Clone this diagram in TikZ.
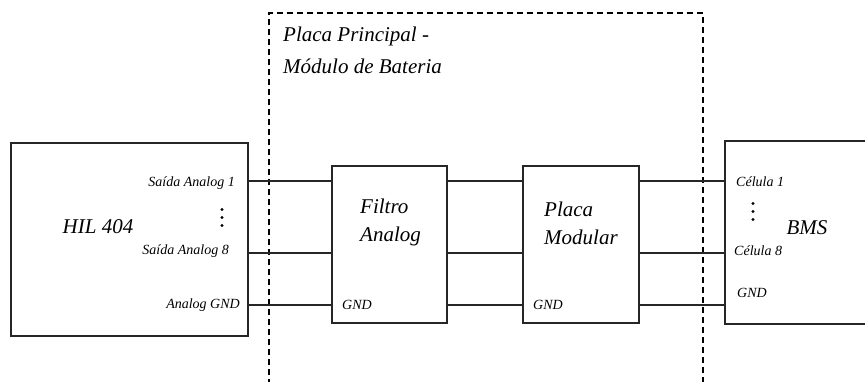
\documentclass[tikz,border=0pt]{standalone}
\usepackage{fontspec}
\setmainfont{Liberation Serif}
\usetikzlibrary{positioning}

\tikzset{
	blk/.style={draw=black!85, line width=1.1pt, rectangle, inner sep=0pt},
	wire/.style={draw=black!85, line width=1.1pt},
	frame/.style={draw=black, line width=1.6pt, dash pattern=on 6pt off 4pt},
	pin/.style={font=\fontsize{14}{16}\selectfont\itshape, inner sep=0pt},
	big/.style={font=\fontsize{21}{28}\selectfont\itshape, inner sep=0pt, align=left},
}

\begin{document}
\begin{tikzpicture}[x=1pt, y=-1pt]
		\clip (0,0) rectangle (865,381);
		\useasboundingbox (0,0) rectangle (865,381);

		% placa principal (moldura tracejada)
		\draw[frame] (269,395) -- (269,13) -- (703,13) -- (703,395);
		\node[big, anchor=north west] (pp) at (283,27) {Placa Principal -\\[4pt]Módulo de Bateria};

		% blocos
		\node[blk, minimum width=237pt, minimum height=193pt] (hil) at (129.5,239.5) {};
		\node[blk, minimum width=115pt, minimum height=157pt] (filtro) at (389.5,244.5) {};
		\node[blk, minimum width=116pt, minimum height=157pt] (placa) at (581,244.5) {};
		\node[blk, minimum width=180pt, minimum height=183pt] (bms) at (815,232.5) {};

		\node[big] (hiltxt) at (98,227) {HIL 404};
		\node[big, anchor=west] (filtxt) at (360,222) {Filtro\\Analog};
		\node[big, anchor=west] (platxt) at (544,223) {Placa\\Modular};
		\node[big] (bmstxt) at (807,228) {BMS};

		% linhas de sinal
		\coordinate (c1) at (0,181);
		\coordinate (c8) at (0,253);
		\coordinate (cg) at (0,305);
		\foreach \c in {c1, c8, cg} {
			\draw[wire] (hil.east |- \c) -- (filtro.west |- \c);
			\draw[wire] (filtro.east |- \c) -- (placa.west |- \c);
			\draw[wire] (placa.east |- \c) -- (bms.west |- \c);
		}

		% rotulos dos pinos
		\node[pin, anchor=east] (s1) at (235,183) {Saída Analog 1};
		\node[pin, anchor=east] (s8) at (229,251) {Saída Analog 8};
		\node[pin, anchor=east] (sg) at (240,305) {Analog GND};
		\node[pin, anchor=west] (fg) at (342,305) {GND};
		\node[pin, anchor=west] (pg) at (533,305) {GND};
		\node[pin, anchor=west] (b1) at (736,182) {Célula 1};
		\node[pin, anchor=west] (b8) at (734,251) {Célula 8};
		\node[pin, anchor=west] (bg) at (737,293) {GND};

		% reticencias
		\foreach \y in {209.5, 217.5, 225.5}
			\fill (222,\y) circle (1.6);
		\foreach \y in {203.5, 211.5, 219.5}
			\fill (753,\y) circle (1.6);
	\end{tikzpicture}
\end{document}
